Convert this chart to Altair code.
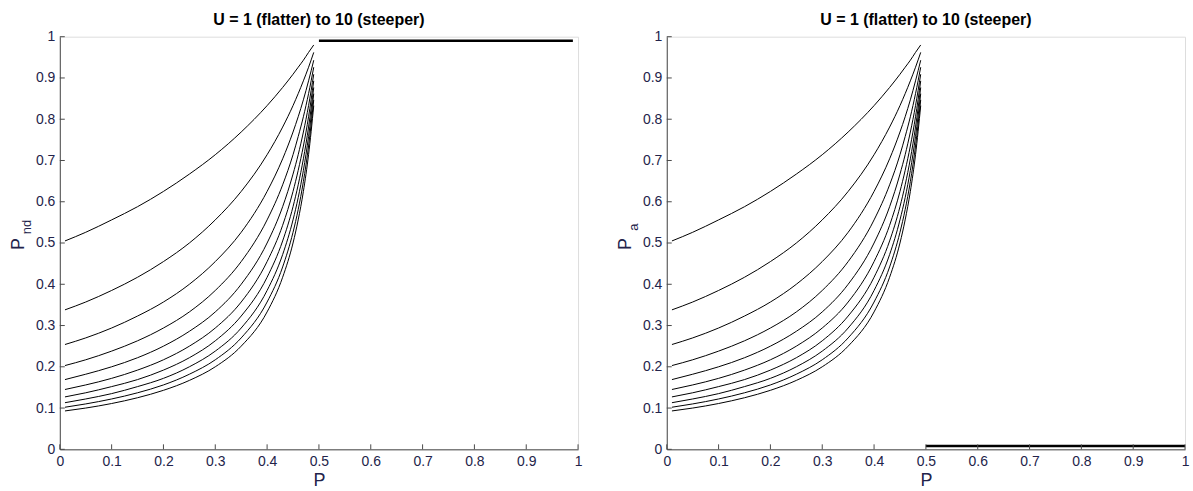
import altair as alt
import pandas as pd

P = [0.01, 0.05, 0.10, 0.15, 0.20, 0.25, 0.30, 0.35, 0.40, 0.43, 0.45, 0.46, 0.47, 0.48, 0.49]

# One list per U (1 = flatter ... 10 = steeper)
U1 = [0.505, 0.526, 0.556, 0.588, 0.625, 0.667, 0.714, 0.769, 0.833, 0.877, 0.909, 0.926, 0.943, 0.962, 0.980]
U2 = [0.338, 0.357, 0.385, 0.417, 0.455, 0.500, 0.556, 0.625, 0.714, 0.781, 0.833, 0.862, 0.893, 0.926, 0.962]
U3 = [0.254, 0.270, 0.294, 0.323, 0.357, 0.400, 0.455, 0.526, 0.625, 0.704, 0.769, 0.806, 0.847, 0.893, 0.943]
U4 = [0.203, 0.217, 0.238, 0.263, 0.294, 0.333, 0.385, 0.455, 0.556, 0.641, 0.714, 0.758, 0.806, 0.862, 0.926]
U5 = [0.169, 0.182, 0.200, 0.222, 0.250, 0.286, 0.333, 0.400, 0.500, 0.588, 0.667, 0.714, 0.769, 0.833, 0.909]
U6 = [0.145, 0.156, 0.172, 0.192, 0.217, 0.250, 0.294, 0.357, 0.455, 0.543, 0.625, 0.676, 0.735, 0.806, 0.893]
U7 = [0.127, 0.137, 0.152, 0.169, 0.192, 0.222, 0.263, 0.323, 0.417, 0.505, 0.588, 0.641, 0.704, 0.781, 0.877]
U8 = [0.113, 0.122, 0.135, 0.152, 0.172, 0.200, 0.238, 0.294, 0.385, 0.472, 0.556, 0.610, 0.676, 0.758, 0.862]
U9 = [0.102, 0.110, 0.122, 0.137, 0.156, 0.182, 0.217, 0.270, 0.357, 0.442, 0.526, 0.581, 0.649, 0.735, 0.847]
U10 = [0.093, 0.100, 0.111, 0.125, 0.143, 0.167, 0.200, 0.250, 0.333, 0.417, 0.500, 0.556, 0.625, 0.714, 0.833]
CURVES = [U1, U2, U3, U4, U5, U6, U7, U8, U9, U10]

# Flat segments for P >= 0.5
SEG_X_LEFT = [0.50, 0.99]
SEG_Y_LEFT = [0.99, 0.99]
SEG_X_RIGHT = [0.50, 1.00]
SEG_Y_RIGHT = [0.008, 0.008]

TICKS = [0, 0.1, 0.2, 0.3, 0.4, 0.5, 0.6, 0.7, 0.8, 0.9, 1]
TITLE = "U = 1 (flatter) to 10 (steeper)"

W, H = 520, 414
FONT = "Liberation Sans"
LABEL_COLOR = "#23234a"
AXIS_COLOR = "#4a4a4a"

rows = []
for u, vals in enumerate(CURVES, start=1):
    for p, v in zip(P, vals):
        rows.append({"U": u, "P": p, "val": v})
curve_df = pd.DataFrame(rows)
tick_df = pd.DataFrame({"t": TICKS})


def panel(seg_x, seg_y, sub):
    xs = alt.Scale(domain=[0, 1], nice=False)
    ys = alt.Scale(domain=[0, 1], nice=False)
    xaxis = alt.Axis(values=TICKS, format="~g", ticks=False, grid=False,
                     labelFont=FONT, labelFontSize=14, labelColor=LABEL_COLOR,
                     labelPadding=5, domainColor=AXIS_COLOR, labelFlush=False,
                     title="P", titleFont=FONT, titleFontSize=18,
                     titleFontWeight="normal", titleColor=LABEL_COLOR, titlePadding=3)
    yaxis = alt.Axis(values=TICKS, format="~g", ticks=False, grid=False,
                     labelFont=FONT, labelFontSize=14, labelColor=LABEL_COLOR,
                     labelPadding=5, domainColor=AXIS_COLOR, labelFlush=False,
                     title=None)
    lines = alt.Chart(curve_df).mark_line(color="black", strokeWidth=1,
                                          interpolate="monotone").encode(
        x=alt.X("P:Q", scale=xs, axis=xaxis),
        y=alt.Y("val:Q", scale=ys, axis=yaxis),
        detail="U:N",
    )
    seg = alt.Chart(pd.DataFrame({"P": seg_x, "val": seg_y})).mark_line(
        color="black", strokeWidth=2.5).encode(x="P:Q", y="val:Q")
    xt = alt.Chart(tick_df).mark_rule(color=AXIS_COLOR, strokeWidth=1).encode(
        x="t:Q", y=alt.value(H), y2=alt.value(H - 5))
    yt = alt.Chart(tick_df).mark_rule(color=AXIS_COLOR, strokeWidth=1).encode(
        y="t:Q", x=alt.value(0), x2=alt.value(5))
    ptxt = alt.Chart(pd.DataFrame({"s": ["P"]})).mark_text(
        font=FONT, fontSize=18, angle=270, color=LABEL_COLOR,
        align="center", baseline="middle").encode(
        text="s:N", x=alt.value(-41), y=alt.value(208))
    stxt = alt.Chart(pd.DataFrame({"s": [sub]})).mark_text(
        font=FONT, fontSize=13, angle=270, color=LABEL_COLOR,
        align="center", baseline="middle").encode(
        text="s:N", x=alt.value(-33), y=alt.value(191))
    return alt.layer(lines, seg, xt, yt, ptxt, stxt).properties(
        width=W, height=H,
        title=alt.TitleParams(TITLE, font=FONT, fontSize=16, fontWeight="bold",
                              color="black", anchor="middle", offset=2))


left = panel(SEG_X_LEFT, SEG_Y_LEFT, "nd")
right = panel(SEG_X_RIGHT, SEG_Y_RIGHT, "a")

chart = alt.hconcat(left, right, spacing=89, bounds="flush").properties(
    padding={"left": 9, "top": 10, "right": 2, "bottom": 2}
).configure_view(stroke=None).configure(background="white")

chart.save("out.html", embed_options={"renderer": "svg", "actions": False})
